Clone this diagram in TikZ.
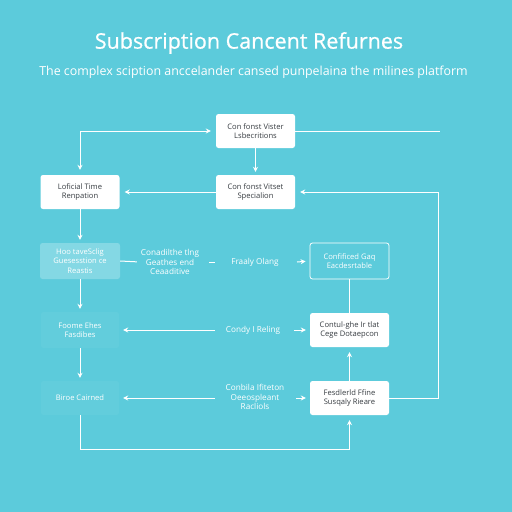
\documentclass[tikz,border=0pt]{standalone}
\usepackage{fontspec}
\setmainfont{Open Sans}
\newfontfamily\titlefont[FakeBold=0.7]{Open Sans}
\usetikzlibrary{arrows.meta}
\definecolor{bg}{RGB}{92,203,219}
\definecolor{txt}{RGB}{55,60,65}
\begin{document}
\begin{tikzpicture}[x=1pt,y=-1pt,
  base/.style={rounded corners=2.5pt, minimum width=79pt, minimum height=34pt, align=center,
    font=\fontsize{7.6}{9.2}\selectfont, inner sep=1pt},
  solidbox/.style={base, fill=white, text=txt},
  glassbox/.style={base, fill=white, fill opacity=0.25, text opacity=1, text=white},
  faintbox/.style={base, fill=white, fill opacity=0.04, text opacity=1, text=white},
  outlinebox/.style={base, draw=white, line width=0.8pt, text=white},
  lbl/.style={text=white, align=center, font=\fontsize{8.2}{9.5}\selectfont, inner sep=1pt},
  conn/.style={draw=white, line width=1pt},
  arr/.style={conn, -{Stealth[length=5pt,width=5pt]}, shorten >=4pt},
]
\fill[bg] (0,0) rectangle (512,512);
\useasboundingbox (0,0) rectangle (512,512);

\node[text=white, font=\titlefont\fontsize{21.5}{24}\selectfont] (title) at (249,43) {Subscription Cancent Refurnes};
\node[text=white, font=\fontsize{12.4}{14}\selectfont] (sub) at (253.5,72) {The complex sciption anccelander cansed punpelaina the milines platform};

\node[solidbox] (n1) at (255.5,131) {Con fonst Vister\\Lsbecritions};
\node[solidbox] (n2) at (255.5,192) {Con fonst Vitset\\Specialion};
\node[solidbox] (n3) at (80,192) {Loficial Time\\Renpation};
\node[glassbox, minimum height=36pt, minimum width=80pt] (n4) at (80,261) {Hoo taveSclig\\Guesesstion ce\\Reastis};
\node[outlinebox, minimum height=36pt] (n6) at (349.5,261) {Confificed Gaq\\Eacdesrtable};
\node[faintbox, minimum height=36pt, minimum width=78pt] (n7) at (80,330) {Foome Ehes\\Fasdibes};
\node[solidbox] (n8) at (349.5,330) {Contul-ghe Ir tlat\\Cege Dotaepcon};
\node[faintbox, minimum width=78pt] (n9) at (80,398) {Biroe Cairned};
\node[solidbox] (n10) at (349.5,398) {Fesdlerld Ffine\\Susqaly Rieare};

\node[lbl] (l4a) at (170,262) {Conadilthe tlng\\Geathes end\\Ceaaditive};
\node[lbl] (l4b) at (255,262) {Fraaly Olang};
\node[lbl] (l7) at (253,330) {Condy I Reling};
\node[lbl] (l9) at (255,397) {Conbila Ifiteton\\Oeeospleant\\Racliols};

\coordinate (d1) at (209,262);
\coordinate (d2) at (215,262);
\coordinate (tr) at (440,131);
\coordinate (rc) at (438,192);
\coordinate (bl) at (80,449);
\coordinate (a4) at (297,262);
\coordinate (a7l) at (215,330);
\coordinate (a7r) at (294,330);
\coordinate (a9l) at (215,398);
\coordinate (a9r) at (296,398);

% top loop
\draw[conn, {Stealth[length=5pt,width=5pt]}-{Stealth[length=5pt,width=5pt]}, shorten <=5pt, shorten >=5pt] (n3.north) |- (n1.west);
\draw[arr, shorten >=3pt] (n1.south) -- (n2.north);
\draw[arr, shorten >=5pt] (n2.west) -- (n3.east);
\draw[conn] (n1.east) -- (tr);
\draw[arr, shorten >=5pt] (n10.east) -| (rc) -- (n2.east);

% left column
\draw[arr, shorten >=3pt] (n3.south) -- (n4.north);
\draw[arr, shorten >=3pt] (n4.south) -- (n7.north);
\draw[arr, shorten >=3pt] (n7.south) -- (n9.north);
\draw[arr, shorten >=5pt] (n9.south) -- (bl) -| (n10.south);

% right column
\draw[arr, shorten >=5pt] (n10.north) -- (n8.south);
\draw[conn] (n8.north) -- (n6.south);

% row 2
\draw[conn, shorten >=3pt] (n4.east) -- (l4a.west);
\draw[conn] (d1) -- (d2);
\draw[arr] (a4) -- (n6.west);

% row 3
\draw[arr] (a7l) -- (n7.east);
\draw[arr] (a7r) -- (n8.west);

% row 4
\draw[arr] (a9l) -- (n9.east);
\draw[arr] (a9r) -- (n10.west);
\end{tikzpicture}
\end{document}
